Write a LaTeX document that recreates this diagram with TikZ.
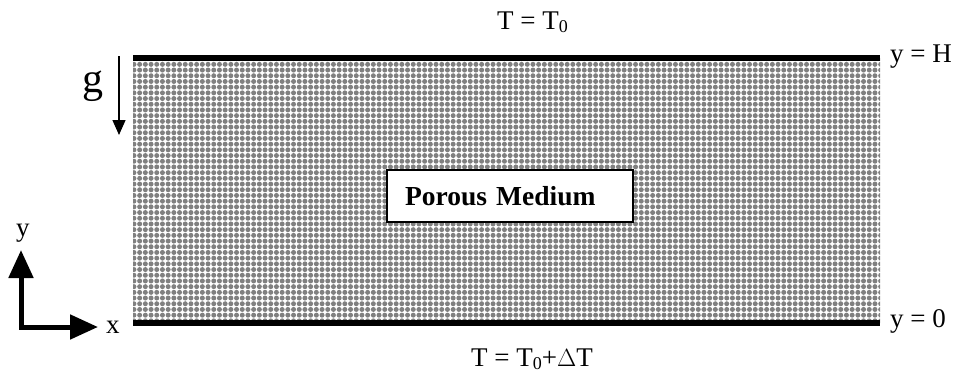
\documentclass[tikz,border=0pt]{standalone}
\usepackage{fontspec}
\setmainfont{Liberation Serif}
\usetikzlibrary{arrows.meta,positioning,patterns}
\pgfdeclarepatternformonly{porous}{\pgfpoint{-1pt}{-1pt}}{\pgfpoint{6.7pt}{6.7pt}}{\pgfpoint{5.7pt}{5.7pt}}{%
  \pgfpathcircle{\pgfpoint{2.85pt}{2.85pt}}{2.5pt}%
  \pgfusepath{fill}}
\definecolor{grain}{HTML}{808080}
\newcommand{\tsub}[1]{\raisebox{-0.3ex}{\fontsize{18}{20}\selectfont #1}}

\begin{document}
\begin{tikzpicture}[
  x=1pt,y=-1pt,
  lbl/.style={font=\fontsize{27}{30}\selectfont,inner sep=0pt},
  plate/.style={line width=6pt},
]
  \useasboundingbox (0,0) rectangle (959,375);

  % Porous layer
  \fill[pattern=porous,pattern color=grain] (133,58) rectangle (880,323);
  \coordinate (tl) at (133,58);
  \coordinate (tr) at (880,58);
  \coordinate (bl) at (133,323);
  \coordinate (br) at (880,323);
  \draw[plate] (tl) -- (tr);
  \draw[plate] (bl) -- (br);

  % Label box
  \node[draw,fill=white,line width=2pt,minimum height=52pt,inner xsep=18pt,text width=210pt,align=left,
    font=\fontsize{27.5}{30}\selectfont\bfseries] (pm) at (510,196) {Porous Medium};

  % Boundary conditions
  \node[lbl,anchor=base west] (ttop) at (497,29) {T = T\tsub{0}};
  \node[lbl,anchor=base west] (tbot) at (471,366) {T = T\tsub{0}+$\Delta$T};
  \node[lbl,anchor=base west] (yh) at (890,62) {y = H};
  \node[lbl,anchor=base west] (y0) at (890,327) {y = 0};

  % Gravity
  \node[lbl,font=\fontsize{42}{44}\selectfont,anchor=base west] (g) at (82,92) {g};
  \coordinate (gs) at (119,56);
  \coordinate (ge) at (119,135);
  \draw[line width=1.3pt,-{Triangle[length=15pt,width=13pt]}] (gs) -- (ge);

  % Axes
  \coordinate (o) at (21,327);
  \coordinate (ay) at (21,250);
  \coordinate (ax) at (98,327);
  \draw[line width=5pt,{Triangle[length=28pt,width=24pt]}-{Triangle[length=28pt,width=24pt]}] (ay) -- (o) -- (ax);
  \node[lbl,anchor=base] (ylab) at (23,236) {y};
  \node[lbl,anchor=base west] (xlab) at (106,333) {x};
\end{tikzpicture}
\end{document}
